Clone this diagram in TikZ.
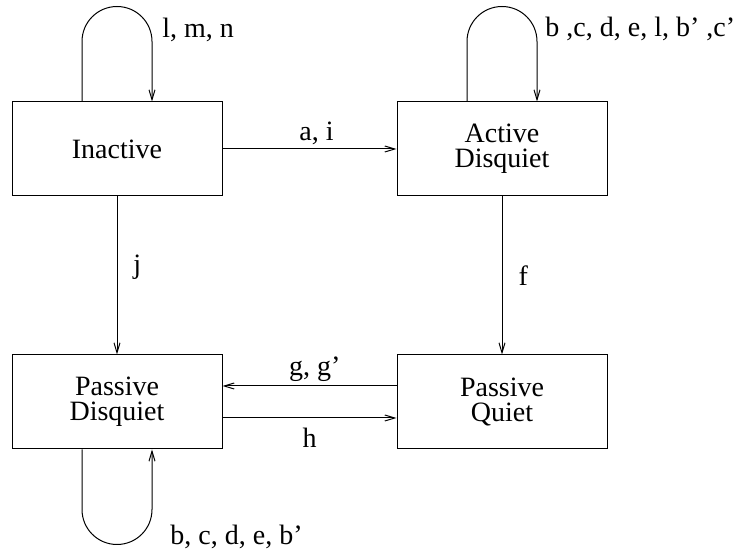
\documentclass[tikz,border=0pt]{standalone}
\usepackage{fontspec}
\newfontfamily\diagfont{Liberation Serif}
\usetikzlibrary{positioning}
\usetikzlibrary{arrows.meta}

\begin{document}
\begin{tikzpicture}[
        state/.style={draw, line width=0.5pt, minimum width=105pt, minimum height=47pt, align=center, font=\diagfont\fontsize{14pt}{12.5pt}\selectfont},
        arr/.style={line width=0.5pt, -{Straight Barb[length=5pt, width=3pt]}},
        lbl/.style={inner sep=2pt, font=\diagfont\fontsize{14pt}{16pt}\selectfont}]
        \useasboundingbox (0,0) rectangle (367.5pt,-275pt);

        \node[state] (inactive) at (58.5pt,-74.5pt) {\diagfont Inactive};
        \node[state, right = 87pt of inactive] (active) {\diagfont Active\\\diagfont Disquiet};
        \node[state, below = 79pt of inactive] (pdisquiet) {\diagfont Passive\\\diagfont Disquiet};
        \node[state, right = 87pt of pdisquiet] (pquiet) {\diagfont Passive\\\diagfont Quiet};

        \draw[arr] (inactive) -- node[lbl, above, pos=0.54] {\diagfont a, i} (active);
        \draw[arr] (inactive) -- node[lbl, right = 6pt, yshift=4pt] {\diagfont j} (pdisquiet);
        \draw[arr] (active) -- node[lbl, right = 6pt] {\diagfont f} (pquiet);
        \draw[arr] ([yshift=8pt] pquiet.west) -- node[lbl, above, pos=0.47] {\diagfont g, g’} ([yshift=8pt] pdisquiet.east);
        \draw[arr] ([yshift=-8pt] pdisquiet.east) -- node[lbl, below, yshift=-3pt] {\diagfont h} ([yshift=-8pt] pquiet.west);

        % self loops
        \draw[arr] ([xshift=-17.5pt] inactive.north) -- ++(0,30pt) arc[start angle=180, end angle=0, radius=17.5pt] -- ([xshift=17.5pt] inactive.north);
        \node[lbl, anchor=base west, inner sep=0pt] (loop_inactive) at ([xshift=22.5pt, yshift=32pt] inactive.north) {\diagfont l, m, n};

        \draw[arr] ([xshift=-17.5pt] active.north) -- ++(0,30pt) arc[start angle=180, end angle=0, radius=17.5pt] -- ([xshift=17.5pt] active.north);
        \node[lbl, anchor=base west, inner sep=0pt] (loop_active) at ([xshift=21.5pt, yshift=32.5pt] active.north) {\diagfont b ,c, d, e, l, b’ ,c’};

        \draw[arr] ([xshift=-17.5pt] pdisquiet.south) -- ++(0,-30pt) arc[start angle=180, end angle=360, radius=17.5pt] -- ([xshift=17.5pt] pdisquiet.south);
        \node[lbl, anchor=base west, inner sep=0pt] (loop_pdisquiet) at ([xshift=26.5pt, yshift=-47.5pt] pdisquiet.south) {\diagfont b, c, d, e, b’};
    \end{tikzpicture}
\end{document}
